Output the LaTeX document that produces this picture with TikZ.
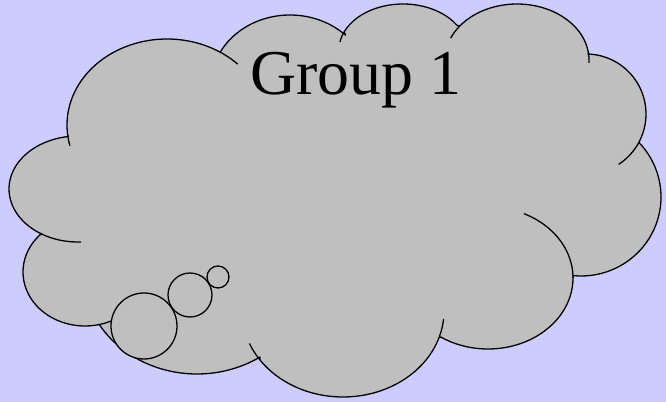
\documentclass[tikz,border=0pt]{standalone}
\usepackage{fontspec}
\setmainfont{Liberation Serif}
\begin{document}
\begin{tikzpicture}[x=0.03cm, y=-0.03cm, cloud/.style={draw=black, fill=black!25, line width=1.1pt, line join=round}, edge/.style={draw=black, line width=1.1pt}, bubble/.style={draw=black, fill=black!25, line width=1.1pt}, lobe/.style={smooth, samples=40, variable=\t}]
  \fill [blue!20] (0,0) rectangle (666,402);
  \useasboundingbox (0,0) rectangle (666,402);

  \filldraw [cloud] plot[lobe, domain=173.3:302.2] ({167+100*cos(\t)}, {125+86*sin(\t)})
    -- plot[lobe, domain=210.1:314.6] ({290+79*cos(\t)}, {85+70*sin(\t)})
    -- plot[lobe, domain=203.3:327.7] ({403+64*cos(\t)}, {50+46*sin(\t)})
    -- plot[lobe, domain=217.4:352.8] ({517+72*cos(\t)}, {60+56*sin(\t)})
    -- plot[lobe, domain=271.9:388] ({586+60*cos(\t)}, {114+60*sin(\t)})
    -- plot[lobe, domain=316.4:455.6] ({581+80*cos(\t)}, {197+79*sin(\t)})
    -- plot[lobe, domain=0:123.8] ({488+85*cos(\t)}, {278+71*sin(\t)})
    -- plot[lobe, domain=18.1:145.4] ({343+101*cos(\t)}, {311+86*sin(\t)})
    -- plot[lobe, domain=56.5:149.1] ({197+114*cos(\t)}, {272+102*sin(\t)})
    -- plot[lobe, domain=77.9:225.4] ({85+62*cos(\t)}, {272+54*sin(\t)})
    -- plot[lobe, domain=121.6:261.9] ({78+69*cos(\t)}, {189+53*sin(\t)})
    -- cycle;

  \draw [edge] plot[lobe, domain=166:173.3] ({167+100*cos(\t)}, {125+86*sin(\t)});
  \draw [edge] plot[lobe, domain=302.2:315] ({167+100*cos(\t)}, {125+86*sin(\t)});
  \draw [edge] plot[lobe, domain=190:203.3] ({403+64*cos(\t)}, {50+46*sin(\t)});
  \draw [edge] plot[lobe, domain=203:217.4] ({517+72*cos(\t)}, {60+56*sin(\t)});
  \draw [edge] plot[lobe, domain=352.8:363] ({517+72*cos(\t)}, {60+56*sin(\t)});
  \draw [edge] plot[lobe, domain=388:417] ({586+60*cos(\t)}, {114+60*sin(\t)});
  \draw [edge] plot[lobe, domain=-65:0] ({488+85*cos(\t)}, {278+71*sin(\t)});
  \draw [edge] plot[lobe, domain=5.3:18.1] ({343+101*cos(\t)}, {311+86*sin(\t)});
  \draw [edge] plot[lobe, domain=145.4:157.8] ({343+101*cos(\t)}, {311+86*sin(\t)});
  \draw [edge] plot[lobe, domain=61.4:77.9] ({85+62*cos(\t)}, {272+54*sin(\t)});
  \draw [edge] plot[lobe, domain=87.5:121.6] ({78+69*cos(\t)}, {189+53*sin(\t)});

  \draw [bubble] (144,326) circle [radius=33];
  \draw [bubble] (190,295) circle [radius=22];
  \draw [bubble] (218,277) circle [radius=11];

  \node [anchor=base west, inner sep=0pt, font=\fontsize{54.5}{60}\selectfont] (title) at (250,95) {Group 1};
\end{tikzpicture}
\end{document}
